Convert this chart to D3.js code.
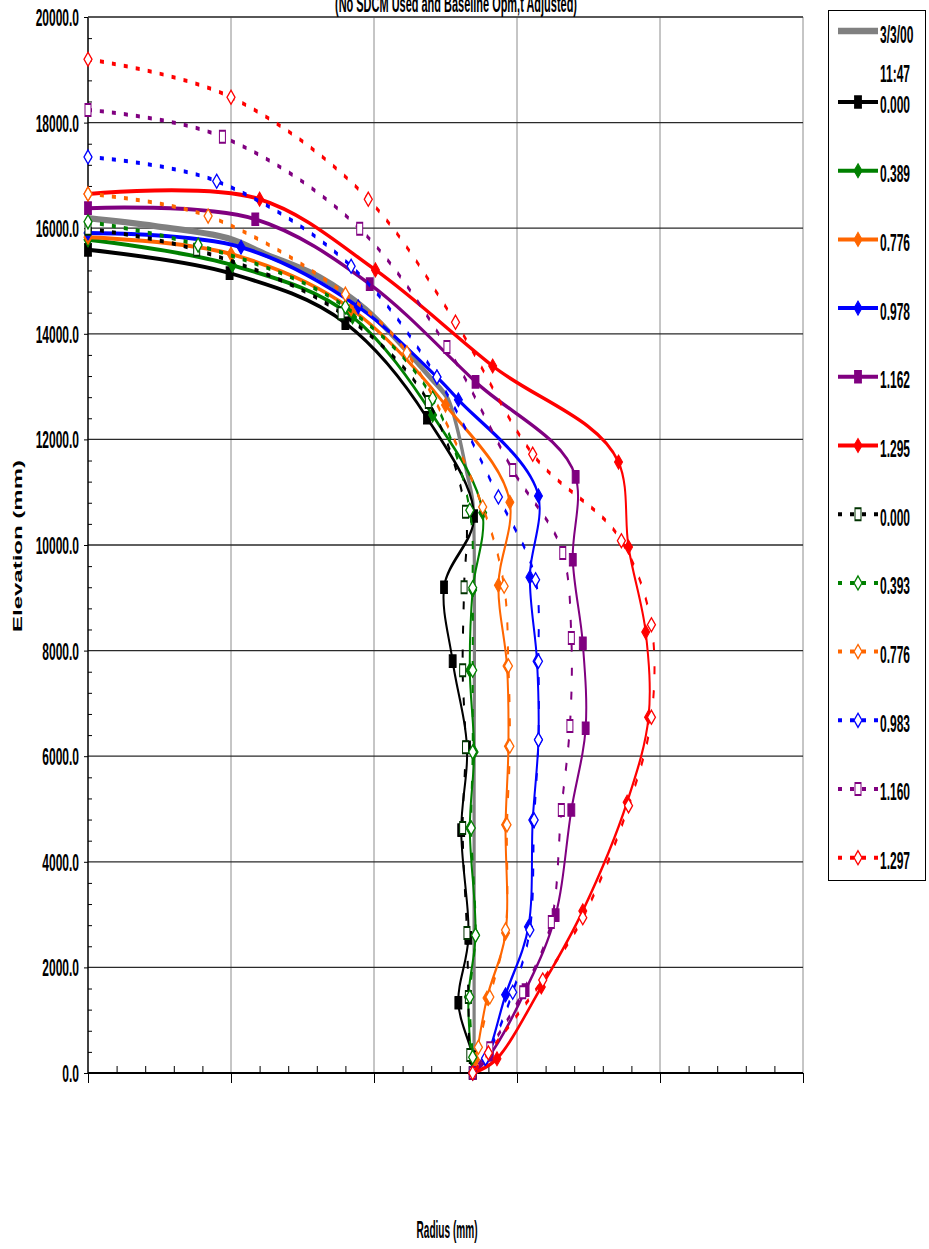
<!DOCTYPE html>
<html><head><meta charset="utf-8">
<script src="https://cdn.jsdelivr.net/npm/d3@7"></script>
<style>body{margin:0;background:#fff}svg{display:block}</style>
</head><body>
<svg id="c" width="929" height="1249"></svg>
<script>
// ---------- DATA ----------
const elevTicks = [0,2000,4000,6000,8000,10000,12000,14000,16000,18000,20000];
const radiusTicks = [0,1000,2000,3000,4000,5000];
const seriesNames = ["3/3/00\n11:47","0.000","0.389","0.776","0.978","1.162","1.295","0.000","0.393","0.776","0.983","1.160","1.297"];

// each point: [radius, elevation]
const base_3_3_00 = [[0,16190],[470,16040],[980,15810],[1240,15510],[1630,15060],[1950,14450],[2160,13880],[2390,13180],[2520,12750],[2580,12230],[2650,11360],[2690,10850],[2700,10090],[2700,5170],[2700,0]];
const solid_0000 = [[0,15590],[990,15150],[1800,14200],[2370,12410],[2700,10550],[2490,9200],[2550,7800],[2650,6170],[2610,4600],[2660,2560],[2590,1330],[2690,300],[2690,0]];
const solid_0389 = [[0,15780],[1010,15300],[1850,14320],[2410,12460],[2760,10610],[2690,9150],[2670,7630],[2700,6080],[2670,4640],[2710,2610],[2660,1440],[2680,300],[2690,0]];
const solid_0776 = [[0,15830],[1000,15510],[1840,14470],[2500,12650],[2950,10810],[2870,9240],[2930,7710],[2940,6190],[2920,4700],[2920,2650],[2790,1420],[2710,250],[2690,0]];
const solid_0978 = [[0,15910],[1070,15640],[1890,14510],[2440,13180],[2590,12750],[3150,10930],[3090,9390],[3140,7800],[3150,6310],[3110,4790],[3080,2770],[2920,1480],[2780,250],[2690,0]];
const solid_1162 = [[0,16380],[1170,16170],[1970,14940],[2710,13090],[3410,11290],[3390,9720],[3460,8140],[3480,6530],[3380,4980],[3270,2990],[3060,1570],[2810,340],[2690,0]];
const solid_1295 = [[0,16650],[1200,16550],[2010,15210],[2830,13390],[3710,11570],[3780,9960],[3900,8350],[3920,6740],[3770,5130],[3460,3070],[3170,1630],[2860,270],[2690,0]];
const dot_0000 = [[0,15990],[760,15590],[1770,14390],[2380,12710],[2640,10630],[2630,9200],[2620,7630],[2640,6170],[2620,4640],[2650,2650],[2660,1440],[2670,340],[2690,0]];
const dot_0393 = [[0,16120],[770,15680],[1800,14510],[2410,12780],[2670,10660],[2690,9190],[2690,7630],[2690,6080],[2680,4640],[2710,2610],[2670,1440],[2690,300],[2690,0]];
const dot_0776 = [[0,16650],[840,16230],[1800,14750],[2230,13640],[2760,10720],[2910,9220],[2940,7710],[2950,6190],[2930,4700],[2920,2710],[2810,1440],[2730,490],[2690,0]];
const dot_0983 = [[0,17350],[900,16890],[1840,15280],[2440,13180],[2870,10910],[3130,9340],[3150,7800],[3150,6310],[3120,4790],[3090,2710],[2970,1530],[2780,280],[2690,0]];
const dot_1160 = [[0,18240],[940,17730],[1900,15990],[2510,13750],[2970,11420],[3320,9850],[3380,8240],[3370,6570],[3310,4980],[3240,2860],[3040,1530],[2810,470],[2690,0]];
const dot_1297 = [[0,19200],[1000,18480],[1960,16550],[2570,14220],[3110,11720],[3730,10080],[3940,8490],[3940,6740],[3780,5060],[3460,2940],[3180,1760],[2800,380],[2690,0]];

// ---------- STYLE ----------
const S = 2; // vertical stretch of the original picture
const FONT = "'Liberation Sans', Arial, sans-serif";
const series = [
  {data:base_3_3_00, color:"#808080", dash:false, marker:null, width:3.2},
  {data:solid_0000, color:"#000000", dash:false, marker:"square", filled:true},
  {data:solid_0389, color:"#008000", dash:false, marker:"diamond", filled:true},
  {data:solid_0776, color:"#ff6600", dash:false, marker:"diamond", filled:true},
  {data:solid_0978, color:"#0000ff", dash:false, marker:"diamond", filled:true},
  {data:solid_1162, color:"#800080", dash:false, marker:"square", filled:true},
  {data:solid_1295, color:"#ff0000", dash:false, marker:"diamond", filled:true},
  {data:dot_0000, color:"#000000", mcolor:"#003300", dash:true, marker:"square", filled:false},
  {data:dot_0393, color:"#008000", dash:true, marker:"diamond", filled:false},
  {data:dot_0776, color:"#ff6600", dash:true, marker:"diamond", filled:false},
  {data:dot_0983, color:"#0000ff", dash:true, marker:"diamond", filled:false},
  {data:dot_1160, color:"#800080", dash:true, marker:"square", filled:false},
  {data:dot_1297, color:"#ff0000", dash:true, marker:"diamond", filled:false}
];
series.forEach((s,i)=>s.name=seriesNames[i]);

const svg = d3.select("#c");
const X0=88, X1=803, Y0=1073, Y1=17;
const x = d3.scaleLinear().domain([0,5000]).range([X0,X1]);
const y = d3.scaleLinear().domain([0,20000]).range([Y0,Y1]);
const yS = d3.scaleLinear().domain([0,20000]).range([Y0/S,Y1/S]);

function stext(parent, tx, ty, str, anchor, extra){
  const t = parent.append("text")
    .attr("transform", `translate(${tx},${ty}) scale(1,${S})${extra||""}`)
    .attr("text-anchor", anchor)
    .attr("font-family", FONT).attr("font-weight","bold").attr("font-size",12)
    .attr("fill","#000").text(str);
  return t;
}

// gridlines
svg.append("g").selectAll("line").data(radiusTicks.slice(1)).join("line")
  .attr("x1",d=>x(d)).attr("x2",d=>x(d)).attr("y1",Y1).attr("y2",Y0)
  .attr("stroke","#8c8c8c").attr("stroke-width",1);
svg.append("g").selectAll("line").data(elevTicks.slice(1)).join("line")
  .attr("x1",X0).attr("x2",X1).attr("y1",d=>y(d)).attr("y2",d=>y(d))
  .attr("stroke","#2a2a2a").attr("stroke-width",1.3);

// y axis
const yAx = svg.append("g").attr("transform",`translate(${X0},0)`)
  .call(d3.axisLeft(y).tickValues(elevTicks).tickSize(4).tickFormat(d3.format(".1f")));
yAx.select(".domain").remove();
yAx.selectAll("text").attr("x",-9).attr("dy","0.35em")
  .attr("transform",`scale(1,${S})`)
  .attr("font-family",FONT).attr("font-weight","bold").attr("font-size",12).attr("fill","#000");
const yMinor = d3.range(400,20000,400).filter(v=>v%2000!==0);
svg.append("g").attr("transform",`translate(${X0},0)`)
  .call(d3.axisRight(y).tickValues(yMinor).tickSize(4).tickFormat(""))
  .select(".domain").remove();

// x axis
const xAx = svg.append("g").attr("transform",`translate(0,${Y0})`)
  .call(d3.axisBottom(x).tickValues(radiusTicks).tickSize(10).tickFormat(""));
xAx.select(".domain").remove();
const xMinor = d3.range(200,5000,200).filter(v=>v%1000!==0);
svg.append("g").attr("transform",`translate(0,${Y0})`)
  .call(d3.axisTop(x).tickValues(xMinor).tickSize(7).tickFormat(""))
  .select(".domain").remove();
svg.append("line").attr("x1",X0).attr("x2",X1).attr("y1",Y0).attr("y2",Y0).attr("stroke","#000").attr("stroke-width",2);
svg.append("line").attr("x1",X0).attr("x2",X0).attr("y1",Y1).attr("y2",Y0).attr("stroke","#000").attr("stroke-width",1.5);
svg.append("line").attr("x1",X0).attr("x2",X1).attr("y1",Y1).attr("y2",Y1).attr("stroke","#555").attr("stroke-width",1.3);

// marker shapes (unstretched coordinates)
function markerPath(type, filled){
  if(type==="diamond") return "M0,-3.5L4,0L0,3.5L-4,0Z";
  if(filled) return "M-3.5,-3h7v6h-7Z";
  return "M-3,-3h6v6h-6Z";
}

// series
const plot = svg.append("g").attr("transform",`scale(1,${S})`);
const line = d3.line().x(d=>x(d[0])).y(d=>yS(d[1])).curve(d3.curveCatmullRom.alpha(0.5));
series.forEach(s=>{
  const g = plot.append("g");
  g.append("path").attr("d",line(s.data)).attr("fill","none")
    .attr("stroke",s.color).attr("stroke-width",s.width||2)
    .attr("stroke-dasharray",s.dash?"4,8":null).attr("stroke-linejoin","round");
  if(s.marker){
    const mc = s.mcolor||s.color;
    g.selectAll("path.m").data(s.data).join("path").attr("class","m")
      .attr("transform",d=>`translate(${x(d[0])},${yS(d[1])})`)
      .attr("d",markerPath(s.marker,s.filled))
      .attr("fill",s.filled?mc:"#fff").attr("stroke",mc).attr("stroke-width",s.filled?0.8:1);
  }
});

// legend
svg.append("rect").attr("x",828.5).attr("y",10.5).attr("width",97).attr("height",870)
  .attr("fill","#fff").attr("stroke","#000").attr("stroke-width",1);
const leg = svg.append("g");
const legPlot = leg.append("g").attr("transform",`scale(1,${S})`);
series.forEach((s,i)=>{
  const ly = i===0 ? 31 : 102 + (i-1)*68.7;
  legPlot.append("line").attr("x1",838).attr("x2",878).attr("y1",ly/S).attr("y2",ly/S)
    .attr("stroke",s.color).attr("stroke-width",s.width||2)
    .attr("stroke-dasharray",s.dash?"4,8":null);
  if(s.marker){
    const mc = s.mcolor||s.color;
    legPlot.append("path").attr("transform",`translate(858,${ly/S})`)
      .attr("d",markerPath(s.marker,s.filled))
      .attr("fill",s.filled?mc:"#fff").attr("stroke",mc).attr("stroke-width",s.filled?0.8:1);
  }
  const parts = s.name.split("\n");
  parts.forEach((p,k)=>{
    stext(leg, 880, (i===0?35:ly+3) + k*39, p, "start").attr("dy","0.35em");
  });
});

// titles
stext(svg, 456, 12, "(No SDCM Used and Baseline Opm,t Adjusted)", "middle")
  .attr("textLength",242).attr("lengthAdjust","spacingAndGlyphs");
stext(svg, 447, 1238, "Radius (mm)", "middle")
  .attr("textLength",61).attr("lengthAdjust","spacingAndGlyphs");
stext(svg, 18, 546, "Elevation (mm)", "middle", " rotate(-90)")
  .attr("dy","0.35em").attr("textLength",86).attr("lengthAdjust","spacingAndGlyphs");
</script>
</body></html>
